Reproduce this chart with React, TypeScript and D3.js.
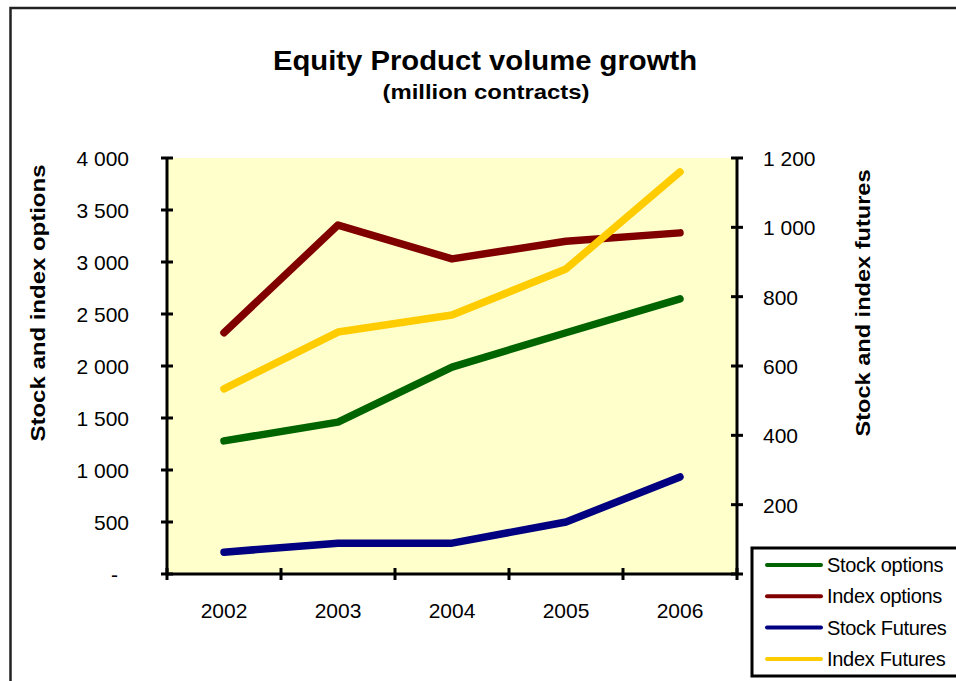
import React from "react";
import * as d3 from "d3";

const years = ["2002", "2003", "2004", "2005", "2006"];
const stockOptions = [1280, 1460, 1990, 2320, 2645];
const indexOptions = [2320, 3355, 3030, 3200, 3280];
const stockFutures = [63, 89, 89, 150, 280];
const indexFutures = [534, 698, 747, 880, 1160];
const leftTicks = [0, 500, 1000, 1500, 2000, 2500, 3000, 3500, 4000];
const rightTicks = [200, 400, 600, 800, 1000, 1200];

const seriesDefs = [
  { name: "Stock options", values: stockOptions, color: "#006400", axis: "left" },
  { name: "Index options", values: indexOptions, color: "#800000", axis: "left" },
  { name: "Stock Futures", values: stockFutures, color: "#000080", axis: "right" },
  { name: "Index Futures", values: indexFutures, color: "#FFCC00", axis: "right" },
];

const W = 956, H = 681;
const L = 167, R = 737, T = 158, B = 574;
const font = "Liberation Sans, Arial, sans-serif";

const fmt = (v: number) => (v === 0 ? "-" : d3.format(",")(v).replace(/,/g, " "));

export default function App() {
  const x = d3.scaleBand<string>().domain(years).range([L, R]);
  const yL = d3.scaleLinear().domain([0, 4000]).range([B, T]);
  const yR = d3.scaleLinear().domain([0, 1200]).range([B, T]);
  const bounds = years.map((y) => x(y) as number).concat([R]);

  return (
    <svg width={W} height={H} style={{ position: "absolute", left: 0, top: 0, background: "#fff" }} fontFamily={font}>
      <rect x={10.5} y={8} width={1000} height={720} fill="#fff" stroke="#222" strokeWidth={2.5} />
      <text x={485} y={70} textAnchor="middle" fontSize={27} fontWeight="bold" textLength={424} lengthAdjust="spacingAndGlyphs">Equity Product volume growth</text>
      <text x={486} y={99} textAnchor="middle" fontSize={21} fontWeight="bold" textLength={207} lengthAdjust="spacingAndGlyphs">(million contracts)</text>

      <rect x={L} y={T} width={R - L} height={B - T} fill="#FFFFCC" />

      {seriesDefs.map((s) => {
        const ys = s.axis === "left" ? yL : yR;
        const line = d3
          .line<number>()
          .x((_, i) => (x(years[i]) as number) + x.bandwidth() / 2)
          .y((v) => ys(v));
        return (
          <path key={s.name} d={line(s.values) || ""} fill="none" stroke={s.color} strokeWidth={7.5} strokeLinecap="round" strokeLinejoin="round" />
        );
      })}

      {/* axes */}
      <line x1={L} x2={L} y1={T} y2={B} stroke="#000" strokeWidth={3} />
      <line x1={R} x2={R} y1={T} y2={B} stroke="#000" strokeWidth={3} />
      <line x1={L} x2={R} y1={B} y2={B} stroke="#000" strokeWidth={3} />
      {leftTicks.map((t) => (
        <g key={"l" + t}>
          <line x1={L - 6} x2={L + 6} y1={yL(t)} y2={yL(t)} stroke="#000" strokeWidth={3} />
          <text x={t === 0 ? 118 : 129} y={yL(t) + 8} textAnchor="end" fontSize={21}>{fmt(t)}</text>
        </g>
      ))}
      {[0, ...rightTicks].map((t) => (
        <line key={"rt" + t} x1={R - 6} x2={R + 6} y1={yR(t)} y2={yR(t)} stroke="#000" strokeWidth={3} />
      ))}
      {rightTicks.map((t) => (
        <text key={"r" + t} x={763} y={yR(t) + 8} textAnchor="start" fontSize={21}>{fmt(t)}</text>
      ))}
      {bounds.map((b, i) => (
        <line key={"b" + i} x1={b} x2={b} y1={B - 6} y2={B + 6} stroke="#000" strokeWidth={3} />
      ))}
      {years.map((y) => (
        <text key={y} x={(x(y) as number) + x.bandwidth() / 2} y={618} textAnchor="middle" fontSize={21}>{y}</text>
      ))}

      <text transform={`translate(45,303) rotate(-90)`} textAnchor="middle" fontSize={21} fontWeight="bold" textLength={277} lengthAdjust="spacingAndGlyphs">Stock and index options</text>
      <text transform={`translate(870,303) rotate(-90)`} textAnchor="middle" fontSize={21} fontWeight="bold" textLength={267} lengthAdjust="spacingAndGlyphs">Stock and index futures</text>

      {/* legend */}
      <rect x={752} y={548} width={220} height={128} fill="#fff" stroke="#000" strokeWidth={3} />
      {seriesDefs.map((s, i) => (
        <g key={"lg" + s.name}>
          <line x1={767} x2={821} y1={565 + i * 31.3} y2={565 + i * 31.3} stroke={s.color} strokeWidth={4} strokeLinecap="round" />
          <text x={827} y={565 + i * 31.3 + 7} fontSize={20} letterSpacing={-0.3}>{s.name}</text>
        </g>
      ))}
    </svg>
  );
}
